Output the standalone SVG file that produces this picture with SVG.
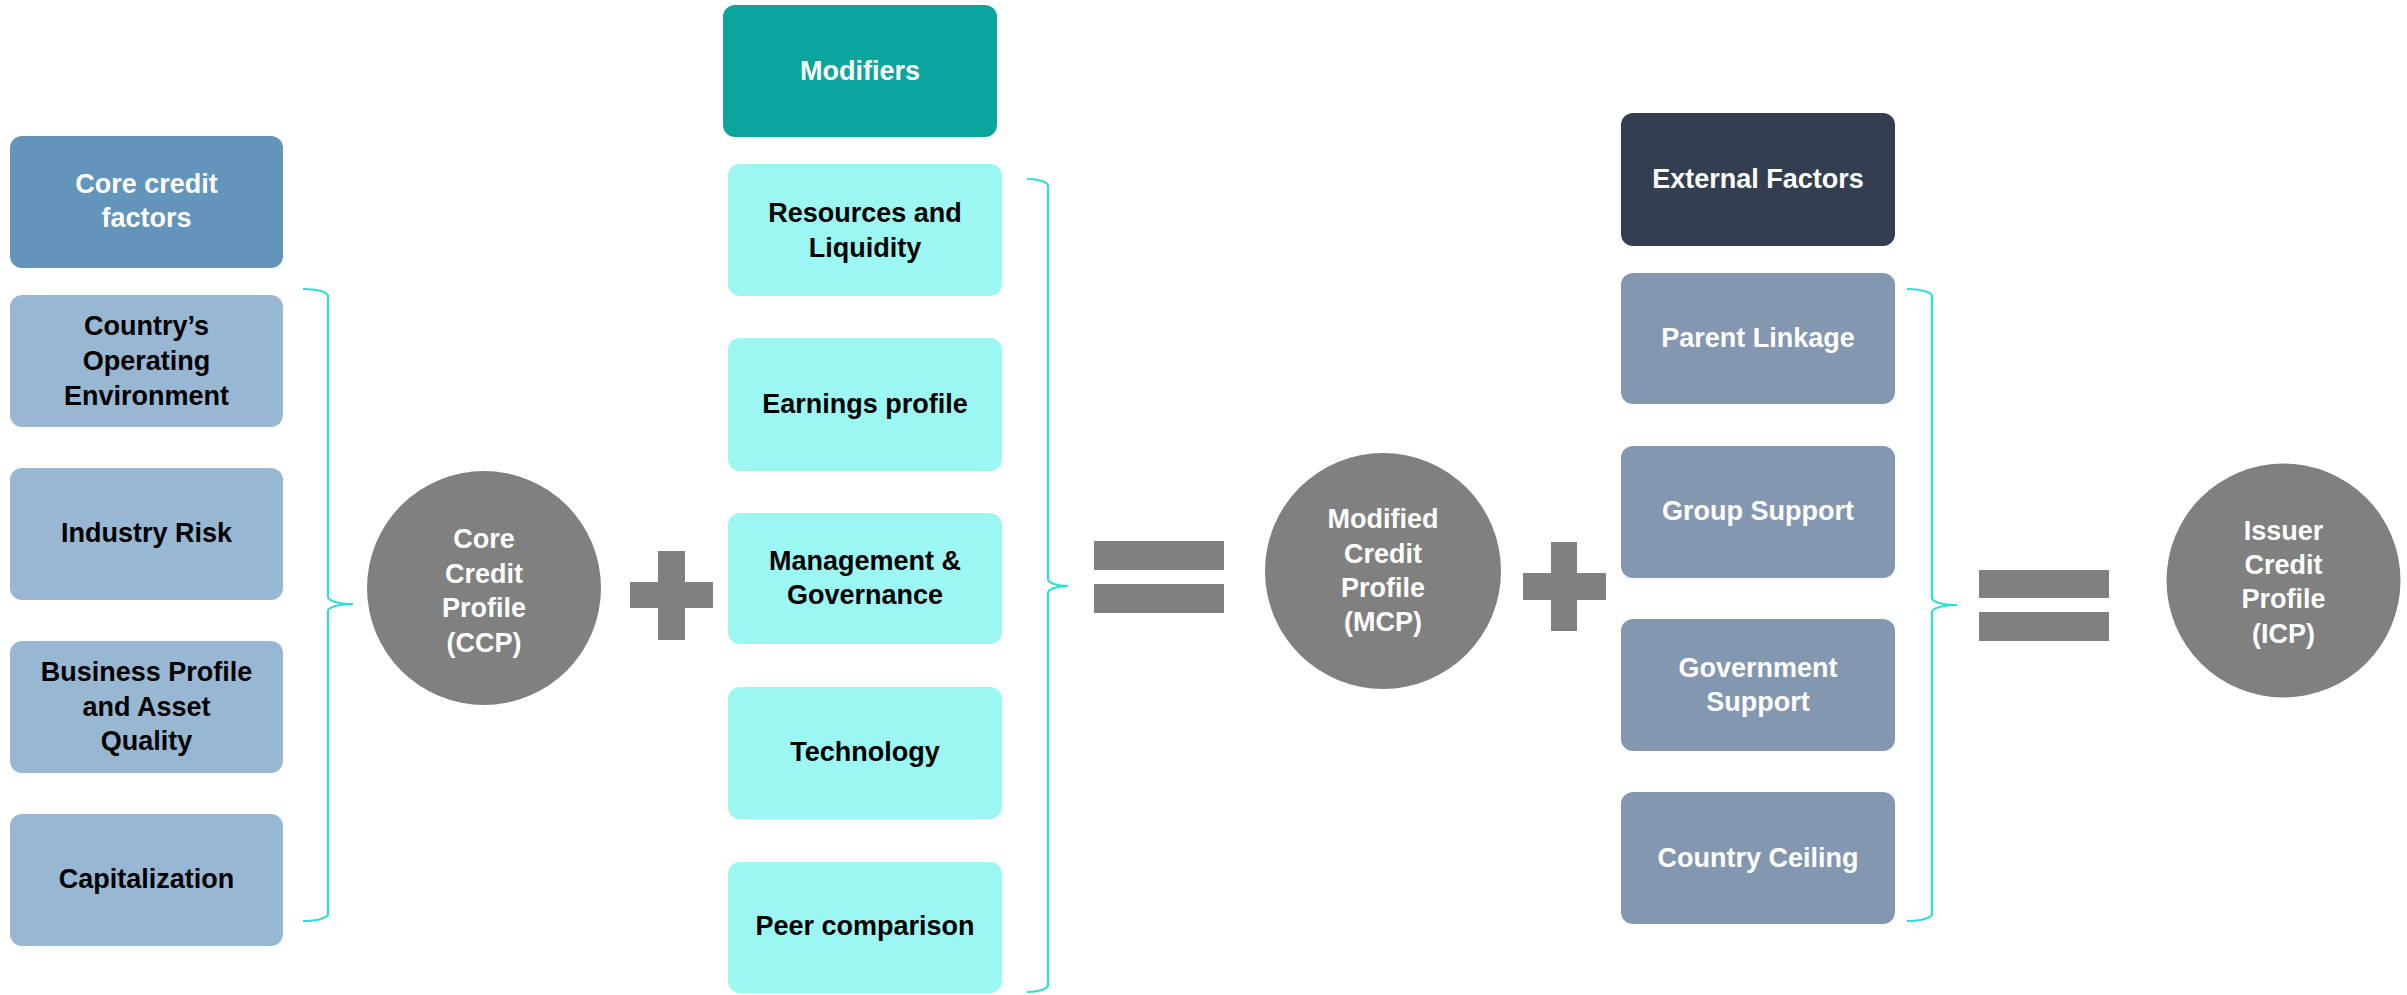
<svg xmlns="http://www.w3.org/2000/svg" width="2407" height="995" viewBox="0 0 2407 995">
  <style>
    text { font-family: "Liberation Sans", Arial, sans-serif; font-weight: bold; font-size: 27px; text-anchor: middle; }
    .w { fill: #FFFFFF; }
    .k { fill: #000000; }
    .core-head { fill: #6394BA; }
    .core-item { fill: #98B7D2; }
    .mod-head { fill: #0CA59E; }
    .mod-item { fill: #9CF7F2; }
    .ext-head { fill: #333F50; }
    .ext-item { fill: #8497B0; }
    .profile { fill: #808080; }
    .op { fill: #808080; }
    .brace { fill: none; stroke: #2EDDD6; stroke-width: 2.2; }
  </style>

  <!-- Core credit factors column -->
  <g id="core-header">
    <rect class="core-head" x="10" y="136" width="273" height="132" rx="12"/>
    <text class="w" x="146.5" y="193">Core credit</text>
    <text class="w" x="146.5" y="227">factors</text>
  </g>
  <g id="core-country">
    <rect class="core-item" x="10" y="295" width="273" height="132" rx="12"/>
    <text class="k" x="146.5" y="335">Country’s</text>
    <text class="k" x="146.5" y="370">Operating</text>
    <text class="k" x="146.5" y="405">Environment</text>
  </g>
  <g id="core-industry">
    <rect class="core-item" x="10" y="468" width="273" height="132" rx="12"/>
    <text class="k" x="146.5" y="542">Industry Risk</text>
  </g>
  <g id="core-business">
    <rect class="core-item" x="10" y="641" width="273" height="132" rx="12"/>
    <text class="k" x="146.5" y="681">Business Profile</text>
    <text class="k" x="146.5" y="716">and Asset</text>
    <text class="k" x="146.5" y="750">Quality</text>
  </g>
  <g id="core-capital">
    <rect class="core-item" x="10" y="814" width="273" height="132" rx="12"/>
    <text class="k" x="146.5" y="888">Capitalization</text>
  </g>

  <!-- Core Credit Profile -->
  <g id="ccp">
    <circle class="profile" cx="484" cy="588" r="117"/>
    <text class="w" x="484" y="548">Core</text>
    <text class="w" x="484" y="583">Credit</text>
    <text class="w" x="484" y="617">Profile</text>
    <text class="w" x="484" y="652">(CCP)</text>
  </g>

  <!-- Modifiers column -->
  <g id="mod-header">
    <rect class="mod-head" x="723" y="5" width="274" height="132" rx="12"/>
    <text class="w" x="860" y="80">Modifiers</text>
  </g>
  <g id="mod-resources">
    <rect class="mod-item" x="728" y="164" width="274" height="132" rx="12"/>
    <text class="k" x="865" y="222">Resources and</text>
    <text class="k" x="865" y="257">Liquidity</text>
  </g>
  <g id="mod-earnings">
    <rect class="mod-item" x="728" y="338" width="274" height="133" rx="12"/>
    <text class="k" x="865" y="413">Earnings profile</text>
  </g>
  <g id="mod-management">
    <rect class="mod-item" x="728" y="513" width="274" height="131" rx="12"/>
    <text class="k" x="865" y="570">Management &amp;</text>
    <text class="k" x="865" y="604">Governance</text>
  </g>
  <g id="mod-technology">
    <rect class="mod-item" x="728" y="687" width="274" height="132" rx="12"/>
    <text class="k" x="865" y="761">Technology</text>
  </g>
  <g id="mod-peer">
    <rect class="mod-item" x="728" y="862" width="274" height="131" rx="12"/>
    <text class="k" x="865" y="935">Peer comparison</text>
  </g>

  <!-- Modified Credit Profile -->
  <g id="mcp">
    <circle class="profile" cx="1383" cy="571" r="118"/>
    <text class="w" x="1383" y="528">Modified</text>
    <text class="w" x="1383" y="563">Credit</text>
    <text class="w" x="1383" y="597">Profile</text>
    <text class="w" x="1383" y="631">(MCP)</text>
  </g>

  <!-- External factors column -->
  <g id="ext-header">
    <rect class="ext-head" x="1621" y="113" width="274" height="133" rx="12"/>
    <text class="w" x="1758" y="188">External Factors</text>
  </g>
  <g id="ext-parent">
    <rect class="ext-item" x="1621" y="273" width="274" height="131" rx="12"/>
    <text class="w" x="1758" y="347">Parent Linkage</text>
  </g>
  <g id="ext-group">
    <rect class="ext-item" x="1621" y="446" width="274" height="132" rx="12"/>
    <text class="w" x="1758" y="520">Group Support</text>
  </g>
  <g id="ext-government">
    <rect class="ext-item" x="1621" y="619" width="274" height="132" rx="12"/>
    <text class="w" x="1758" y="677">Government</text>
    <text class="w" x="1758" y="711">Support</text>
  </g>
  <g id="ext-ceiling">
    <rect class="ext-item" x="1621" y="792" width="274" height="132" rx="12"/>
    <text class="w" x="1758" y="867">Country Ceiling</text>
  </g>

  <!-- Issuer Credit Profile -->
  <g id="icp">
    <circle class="profile" cx="2283.5" cy="580.5" r="117"/>
    <text class="w" x="2283.5" y="540">Issuer</text>
    <text class="w" x="2283.5" y="574">Credit</text>
    <text class="w" x="2283.5" y="608">Profile</text>
    <text class="w" x="2283.5" y="643">(ICP)</text>
  </g>

  <!-- Connectors: grouping braces and the plus / equals operators -->
  <g id="connectors">
    <path class="brace" d="M303,289 A25,7 0 0 1 328,296 L328,597 A25,7 0 0 0 353,604 A25,7 0 0 0 328,611 L328,914 A25,7 0 0 1 303,921"/>
    <path class="brace" d="M1027,179 A21,7 0 0 1 1048,186 L1048,579 A20,7 0 0 0 1068,586 A20,7 0 0 0 1048,593 L1048,985 A21,7 0 0 1 1027,992"/>
    <path class="brace" d="M1907,289 A25,7 0 0 1 1932,296 L1932,598 A25,7 0 0 0 1957,605 A25,7 0 0 0 1932,612 L1932,914 A25,7 0 0 1 1907,921"/>

    <g id="plus-1">
      <rect class="op" x="658" y="551" width="27" height="89"/>
      <rect class="op" x="630" y="582" width="83" height="26"/>
    </g>
    <g id="equals-1">
      <rect class="op" x="1094" y="541" width="130" height="29"/>
      <rect class="op" x="1094" y="584" width="130" height="29"/>
    </g>
    <g id="plus-2">
      <rect class="op" x="1551" y="542" width="26" height="89"/>
      <rect class="op" x="1523" y="573" width="83" height="27"/>
    </g>
    <g id="equals-2">
      <rect class="op" x="1979" y="570" width="130" height="28"/>
      <rect class="op" x="1979" y="612" width="130" height="29"/>
    </g>
  </g>
</svg>
